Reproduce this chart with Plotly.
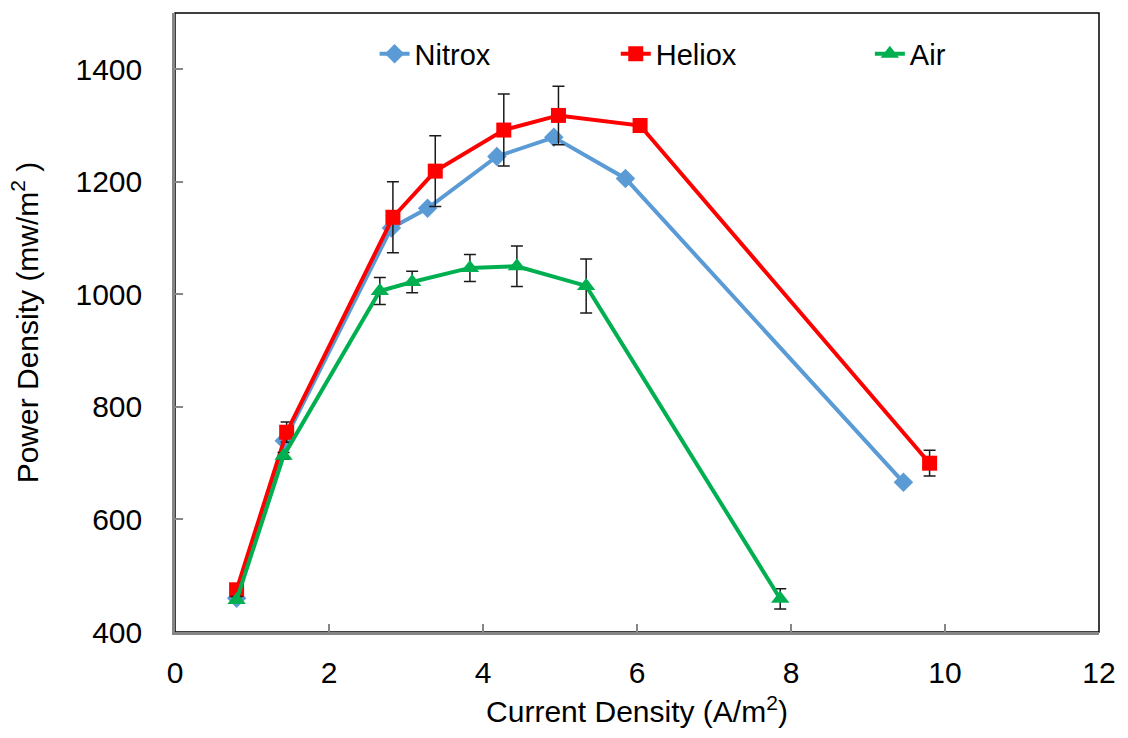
import plotly.graph_objects as go

# Data
nitrox_x = [0.80, 1.42, 2.81, 3.28, 4.18, 4.92, 5.85, 9.46]
nitrox_y = [460, 740, 1118, 1153, 1245, 1279, 1206, 666]

heliox_x = [0.80, 1.45, 2.83, 3.38, 4.27, 4.98, 6.04, 9.80]
heliox_y = [475, 755, 1137, 1219, 1292, 1318, 1300, 700]
heliox_err = [0, 18, 63, 63, 64, 52, 12, 23]

air_x = [0.80, 1.41, 2.66, 3.08, 3.83, 4.44, 5.34, 7.86]
air_y = [457, 713, 1006, 1022, 1047, 1050, 1015, 459]
air_err = [6, 6, 24, 19, 24, 36, 48, 18]

x_ticks = [0, 2, 4, 6, 8, 10, 12]
y_ticks = [400, 600, 800, 1000, 1200, 1400]

FONT = "Liberation Sans, Arial, sans-serif"
ERR = dict(color="#1a1a1a", thickness=1.5, width=6)

fig = go.Figure()
fig.add_trace(go.Scatter(
    x=nitrox_x, y=nitrox_y, name="Nitrox", mode="lines+markers", legend="legend",
    line=dict(color="#5B9BD5", width=4),
    marker=dict(symbol="diamond", size=15, color="#5B9BD5"),
))
fig.add_trace(go.Scatter(
    x=heliox_x, y=heliox_y, name="Heliox", mode="lines+markers", legend="legend2",
    line=dict(color="#FF0000", width=4),
    marker=dict(symbol="square", size=15, color="#FF0000"),
    error_y=dict(type="data", array=heliox_err, visible=True, **ERR),
))
fig.add_trace(go.Scatter(
    x=air_x, y=air_y, name="Air", mode="lines+markers", legend="legend3",
    line=dict(color="#00B050", width=4),
    marker=dict(symbol="triangle-up", size=16, color="#00B050"),
    error_y=dict(type="data", array=air_err, visible=True, **ERR),
))

fig.add_shape(type="rect", xref="paper", yref="paper", x0=0, x1=1, y0=0, y1=1,
              line=dict(color="black", width=1.5), layer="below")

leg = dict(orientation="h", xanchor="left", y=0.934, yanchor="middle",
           font=dict(size=29), bgcolor="rgba(0,0,0,0)")

fig.update_layout(
    width=1128, height=738,
    margin=dict(l=175, r=23, t=13, b=106),
    paper_bgcolor="white", plot_bgcolor="white",
    font=dict(family=FONT, size=30, color="black"),
    showlegend=True,
    legend=dict(x=0.216, **leg),
    legend2=dict(x=0.477, **leg),
    legend3=dict(x=0.752, **leg),
    xaxis=dict(
        range=[0, 12], tickvals=x_ticks, ticktext=[str(v) for v in x_ticks],
        showgrid=False, zeroline=False,
        showline=True, linecolor="#868686", linewidth=2.5,
        ticks="inside", ticklen=8, tickcolor="#868686", tickwidth=1.5,
        tickfont=dict(size=30), ticklabelstandoff=12,
        title=dict(text="Current Density (A/m<sup>2</sup>)", font=dict(size=30), standoff=14),
    ),
    yaxis=dict(
        range=[400, 1500], tickvals=y_ticks, ticktext=[str(v) for v in y_ticks],
        showgrid=False, zeroline=False,
        showline=True, linecolor="#868686", linewidth=2.5,
        ticks="inside", ticklen=8, tickcolor="#868686", tickwidth=1.5,
        tickfont=dict(size=30), ticklabelstandoff=24,
        title=dict(text="Power Density (mw/m<sup>2</sup> )", font=dict(size=30), standoff=29),
    ),
)

fig.write_html("out.html")
